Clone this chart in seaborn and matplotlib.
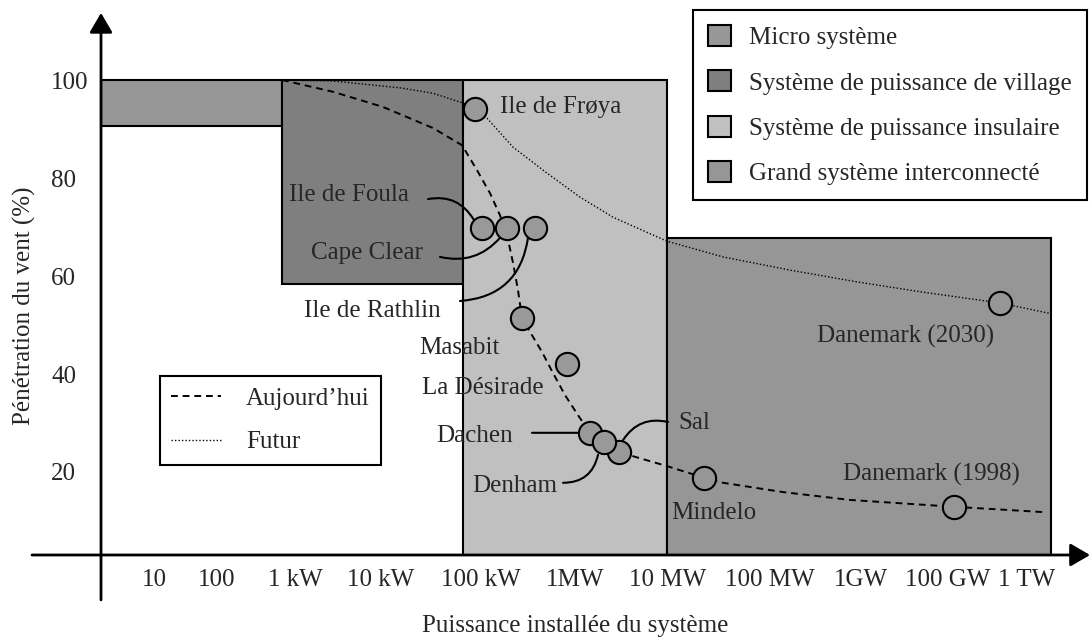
import numpy as np
import pandas as pd
import seaborn as sns
import matplotlib.pyplot as plt
from matplotlib.patches import Patch
from matplotlib.lines import Line2D

# --- données (x : position sur l'axe, y : pénétration %) ---
tick_pos = [53, 116, 194, 280, 380, 474, 567, 669, 760, 847, 926]
tick_labels = ['10', '100', '1 kW', '10 kW', '100 kW', '1MW', '10 MW', '100 MW',
               '1GW', '100 GW', '1 TW']

box_names = ['Micro système', 'Système de puissance de village',
             'Système de puissance insulaire', 'Grand système interconnecté']
box_left = [0, 181, 362, 566]
box_right = [181, 362, 566, 950]
box_low = [90.6, 58.4, 0, 0]
box_high = [100, 100, 100, 67.8]
box_colors = ['#979797', '#7f7f7f', '#c0c0c0', '#969696']

today_x = [181, 232, 282, 332, 361, 376, 389, 399, 406, 412, 417, 421, 429, 441,
           452, 464, 477, 489, 503, 518, 534, 566, 591, 603, 622, 682, 749, 853, 944]
today_y = [100.0, 97.6, 94.5, 90.2, 86.7, 81.6, 76.9, 72.4, 68.4, 62.7, 57.1, 51.4,
           48.6, 44.5, 40.2, 35.7, 31.6, 28.0, 26.1, 24.1, 23.1, 21.2, 19.6, 18.8,
           17.8, 15.9, 14.3, 12.9, 11.8]

future_x = [181, 232, 299, 332, 362, 374, 386, 412, 446, 479, 512, 566, 622, 689,
            756, 822, 899, 948]
future_y = [100.0, 99.8, 98.4, 97.3, 95.3, 94.1, 92.2, 86.3, 81.0, 76.1, 72.0, 67.1,
            63.9, 61.2, 58.8, 56.7, 54.5, 52.4]

# sites (ordre = ordre de dessin)
site_names = ['Ile de Frøya', 'Ile de Foula', 'Cape Clear', 'Ile de Rathlin', 'Masabit',
              'La Désirade', 'Dachen', 'Sal', 'Denham']
site_x = [374, 381, 406, 434, 421, 466, 489, 518, 503]
site_y = [94.1, 69.8, 69.8, 69.8, 51.4, 42.0, 28.0, 24.1, 26.1]

big_names = ['Mindelo', 'Danemark (1998)', 'Danemark (2030)']
big_x = [603, 853, 899]
big_y = [18.8, 12.9, 54.5]

sites = pd.DataFrame({'site': site_names, 'x': site_x, 'y': site_y})
big = pd.DataFrame({'site': big_names, 'x': big_x, 'y': big_y})

sns.set_theme(style='white')
plt.rcParams['font.family'] = ['Liberation Serif', 'DejaVu Serif']
FS = 18
plt.rcParams['font.size'] = FS

fig = plt.figure(figsize=(10.9, 6.37), dpi=100)
ax = fig.add_axes([101 / 1090, 82 / 637, 989 / 1090, 555 / 637])
ax.set_xlim(0, 989)
ax.set_ylim(3.06, 116.33)
for s in ax.spines.values():
    s.set_visible(False)

# zones
left = np.array(box_left)
ax.bar(left, np.array(box_high) - np.array(box_low), width=np.array(box_right) - left,
       bottom=box_low, align='edge', color=box_colors, edgecolor='black',
       linewidth=1.5, zorder=1)

# courbes
dash = (0, (3.5, 2.5))
dot = (0, (1, 1.5))
sns.lineplot(x=today_x, y=today_y, ax=ax, color='black', lw=1.4, linestyle=dash,
             estimator=None, sort=False, zorder=2)
sns.lineplot(x=future_x, y=future_y, ax=ax, color='black', lw=1.0, linestyle=dot,
             estimator=None, sort=False, zorder=2)

# traits de rappel
leaders = [((327, 75.7), (373, 71.4), -0.35),
           ((339, 63.9), (399, 67.8), 0.3),
           ((359, 54.9), (427, 67.8), 0.4),
           ((431, 28.0), (478, 28.0), 0.0),
           ((462, 17.8), (497, 23.5), 0.4),
           ((567, 30.2), (522, 26.5), 0.35)]
for a, b, rad in leaders:
    ax.annotate('', xy=b, xytext=a, zorder=3,
                arrowprops=dict(arrowstyle='-', lw=1.5, color='black', shrinkA=0,
                                shrinkB=0, connectionstyle=f'arc3,rad={rad}'))

# points
sns.scatterplot(data=sites, x='x', y='y', ax=ax, s=280, color='#999999',
                edgecolor='black', linewidth=1.5, zorder=4, legend=False)
sns.scatterplot(data=big, x='x', y='y', ax=ax, s=280, color='#969696',
                edgecolor='black', linewidth=1.5, zorder=4, legend=False)

labels = [('Ile de Frøya', 399, 94.5), ('Ile de Foula', 188, 76.5),
          ('Cape Clear', 210, 64.7), ('Ile de Rathlin', 203, 52.9),
          ('Masabit', 318, 45.3), ('La Désirade', 321, 37.1), ('Dachen', 335, 27.3),
          ('Denham', 371, 17.1), ('Sal', 577, 30.0), ('Mindelo', 570, 11.6),
          ('Danemark (1998)', 742, 19.4), ('Danemark (2030)', 716, 47.6)]
for t, x, y in labels:
    ax.text(x, y, t, ha='left', va='center', fontsize=FS, zorder=5)

# axes fléchés
arrow = dict(arrowstyle='-|>,head_length=0.6,head_width=0.35', lw=2, color='black',
             mutation_scale=20, shrinkA=0, shrinkB=0)
ax.annotate('', xy=(989, 3.06), xytext=(-69, 3.06), arrowprops=arrow,
            annotation_clip=False)
ax.annotate('', xy=(0, 113.7), xytext=(0, -6.1), arrowprops=arrow,
            annotation_clip=False)

ax.set_xticks(tick_pos, tick_labels)
ax.set_yticks([20, 40, 60, 80, 100])
ax.tick_params(axis='both', length=0, labelsize=FS)
ax.tick_params(axis='x', pad=10)
ax.tick_params(axis='y', pad=36)
for lbl in ax.get_yticklabels():
    lbl.set_ha('left')

ax.set_xlabel('Puissance installée du système', fontsize=FS)
ax.xaxis.label.set_va('center')
ax.xaxis.set_label_coords(0.479, -0.128)
ax.set_ylabel('Pénétration du vent (%)', fontsize=FS)
ax.yaxis.label.set_va('center')
ax.yaxis.set_label_coords(-0.077, 0.449)

# légendes
h1 = [Patch(facecolor=c, edgecolor='black', linewidth=1.5) for c in box_colors]
leg1 = ax.legend(h1, box_names, loc='upper left', bbox_to_anchor=(693 / 1090, 1 - 10 / 637),
                 bbox_transform=fig.transFigure, borderaxespad=0, fancybox=False,
                 edgecolor='black', framealpha=1, fontsize=FS, handlelength=0.92,
                 handleheight=0.92, handletextpad=0.72, labelspacing=0.85, borderpad=0.6)
leg1.get_frame().set_linewidth(1.5)
ax.add_artist(leg1)

h2 = [Line2D([], [], color='black', lw=1.4, linestyle=dash),
      Line2D([], [], color='black', lw=1.0, linestyle=dot)]
leg2 = ax.legend(h2, ['Aujourd’hui', 'Futur'], loc='upper left',
                 bbox_to_anchor=(160 / 1090, 1 - 376 / 637), bbox_transform=fig.transFigure,
                 borderaxespad=0, fancybox=False, edgecolor='black', framealpha=1,
                 fontsize=FS, handlelength=2.0, handletextpad=1.0, labelspacing=0.85,
                 borderpad=0.45)
leg2.get_frame().set_linewidth(1.5)

fig.savefig('out.png', dpi=100)
